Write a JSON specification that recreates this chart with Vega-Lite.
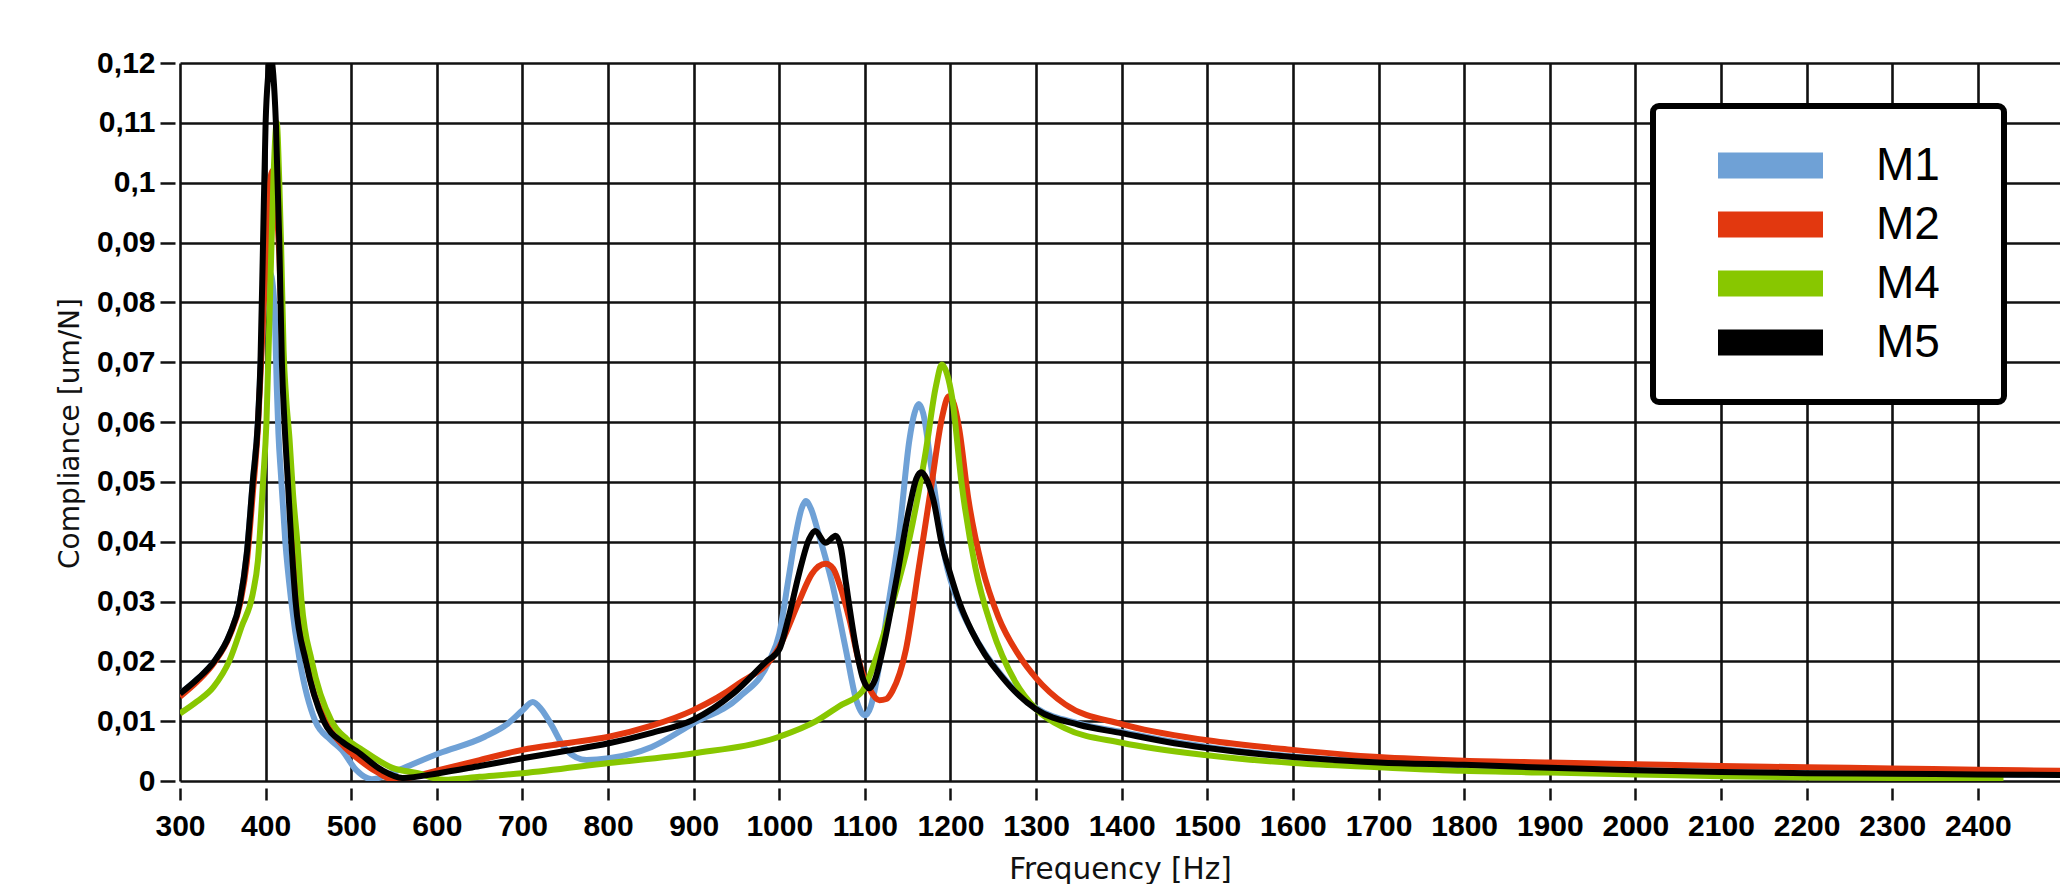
{
  "$schema": "https://vega.github.io/schema/vega-lite/v6.json",
  "width": 1880,
  "height": 718,
  "autosize": {"type": "none"},
  "padding": {"left": 180, "top": 63, "right": 0, "bottom": 103},
  "background": "white",
  "config": {
    "view": {"stroke": null},
    "legend": {"strokeWidth": 6, "strokeColor": "black", "fillColor": "white", "cornerRadius": 6, "padding": 30}
  },
  "data": {
    "values": [
      {"s":"M1","f":300,"c":0.0146},{"s":"M1","f":320,"c":0.0170},{"s":"M1","f":340,"c":0.0200},{"s":"M1","f":358,"c":0.0245},{"s":"M1","f":370,"c":0.0300},{"s":"M1","f":378,"c":0.0380},{"s":"M1","f":385,"c":0.0500},{"s":"M1","f":391,"c":0.0600},{"s":"M1","f":395,"c":0.0720},{"s":"M1","f":400,"c":0.0820},{"s":"M1","f":405,"c":0.0850},{"s":"M1","f":409,"c":0.0820},{"s":"M1","f":411,"c":0.0770},{"s":"M1","f":413,"c":0.0660},{"s":"M1","f":415,"c":0.0580},{"s":"M1","f":418,"c":0.0510},{"s":"M1","f":423,"c":0.0400},{"s":"M1","f":430,"c":0.0300},{"s":"M1","f":440,"c":0.0200},{"s":"M1","f":458,"c":0.0100},{"s":"M1","f":475,"c":0.0070},{"s":"M1","f":489,"c":0.0052},{"s":"M1","f":506,"c":0.0018},{"s":"M1","f":524,"c":0.0003},{"s":"M1","f":545,"c":0.0012},{"s":"M1","f":560,"c":0.0021},{"s":"M1","f":602,"c":0.0046},{"s":"M1","f":656,"c":0.0074},{"s":"M1","f":683,"c":0.0096},{"s":"M1","f":700,"c":0.0118},{"s":"M1","f":712,"c":0.0132},{"s":"M1","f":722,"c":0.0120},{"s":"M1","f":733,"c":0.0096},{"s":"M1","f":751,"c":0.0052},{"s":"M1","f":775,"c":0.0035},{"s":"M1","f":801,"c":0.0038},{"s":"M1","f":851,"c":0.0057},{"s":"M1","f":899,"c":0.0096},{"s":"M1","f":953,"c":0.0140},{"s":"M1","f":988,"c":0.0200},{"s":"M1","f":1000,"c":0.0246},{"s":"M1","f":1011,"c":0.0340},{"s":"M1","f":1019,"c":0.0410},{"s":"M1","f":1026,"c":0.0455},{"s":"M1","f":1031,"c":0.0468},{"s":"M1","f":1037,"c":0.0455},{"s":"M1","f":1046,"c":0.0413},{"s":"M1","f":1062,"c":0.0329},{"s":"M1","f":1078,"c":0.0218},{"s":"M1","f":1090,"c":0.0135},{"s":"M1","f":1100,"c":0.0110},{"s":"M1","f":1107,"c":0.0125},{"s":"M1","f":1113,"c":0.0163},{"s":"M1","f":1128,"c":0.0300},{"s":"M1","f":1140,"c":0.0413},{"s":"M1","f":1152,"c":0.0570},{"s":"M1","f":1158,"c":0.0615},{"s":"M1","f":1163,"c":0.0630},{"s":"M1","f":1168,"c":0.0615},{"s":"M1","f":1178,"c":0.0520},{"s":"M1","f":1194,"c":0.0370},{"s":"M1","f":1210,"c":0.0295},{"s":"M1","f":1225,"c":0.0250},{"s":"M1","f":1240,"c":0.0214},{"s":"M1","f":1255,"c":0.0185},{"s":"M1","f":1275,"c":0.0152},{"s":"M1","f":1300,"c":0.0122},{"s":"M1","f":1350,"c":0.0096},{"s":"M1","f":1400,"c":0.0082},{"s":"M1","f":1450,"c":0.0068},{"s":"M1","f":1500,"c":0.0057},{"s":"M1","f":1600,"c":0.0041},{"s":"M1","f":1700,"c":0.0032},{"s":"M1","f":1800,"c":0.0027},{"s":"M1","f":1900,"c":0.0022},{"s":"M1","f":2000,"c":0.0018},{"s":"M1","f":2100,"c":0.0015},{"s":"M1","f":2200,"c":0.0013},{"s":"M1","f":2300,"c":0.0012},{"s":"M1","f":2400,"c":0.0011},{"s":"M1","f":2496,"c":0.0010},

      {"s":"M2","f":300,"c":0.0141},{"s":"M2","f":320,"c":0.0166},{"s":"M2","f":340,"c":0.0198},{"s":"M2","f":358,"c":0.0243},{"s":"M2","f":370,"c":0.0295},{"s":"M2","f":378,"c":0.0365},{"s":"M2","f":385,"c":0.0480},{"s":"M2","f":391,"c":0.0590},{"s":"M2","f":396,"c":0.0740},{"s":"M2","f":400,"c":0.0860},{"s":"M2","f":404,"c":0.0980},{"s":"M2","f":408,"c":0.1020},{"s":"M2","f":412,"c":0.0970},{"s":"M2","f":416,"c":0.0880},{"s":"M2","f":419,"c":0.0750},{"s":"M2","f":422,"c":0.0640},{"s":"M2","f":426,"c":0.0540},{"s":"M2","f":430,"c":0.0440},{"s":"M2","f":434,"c":0.0350},{"s":"M2","f":438,"c":0.0300},{"s":"M2","f":448,"c":0.0200},{"s":"M2","f":470,"c":0.0100},{"s":"M2","f":490,"c":0.0060},{"s":"M2","f":510,"c":0.0035},{"s":"M2","f":530,"c":0.0015},{"s":"M2","f":550,"c":0.0002},{"s":"M2","f":575,"c":0.0008},{"s":"M2","f":602,"c":0.0018},{"s":"M2","f":650,"c":0.0035},{"s":"M2","f":700,"c":0.0052},{"s":"M2","f":750,"c":0.0063},{"s":"M2","f":801,"c":0.0074},{"s":"M2","f":850,"c":0.0092},{"s":"M2","f":899,"c":0.0118},{"s":"M2","f":950,"c":0.0160},{"s":"M2","f":1000,"c":0.0224},{"s":"M2","f":1023,"c":0.0300},{"s":"M2","f":1038,"c":0.0346},{"s":"M2","f":1054,"c":0.0363},{"s":"M2","f":1063,"c":0.0355},{"s":"M2","f":1070,"c":0.0330},{"s":"M2","f":1082,"c":0.0270},{"s":"M2","f":1093,"c":0.0200},{"s":"M2","f":1105,"c":0.0155},{"s":"M2","f":1117,"c":0.0135},{"s":"M2","f":1125,"c":0.0137},{"s":"M2","f":1132,"c":0.0150},{"s":"M2","f":1148,"c":0.0220},{"s":"M2","f":1163,"c":0.0357},{"s":"M2","f":1178,"c":0.0497},{"s":"M2","f":1190,"c":0.0607},{"s":"M2","f":1198,"c":0.0643},{"s":"M2","f":1204,"c":0.0630},{"s":"M2","f":1210,"c":0.0590},{"s":"M2","f":1221,"c":0.0470},{"s":"M2","f":1237,"c":0.0357},{"s":"M2","f":1256,"c":0.0274},{"s":"M2","f":1280,"c":0.0210},{"s":"M2","f":1300,"c":0.0172},{"s":"M2","f":1334,"c":0.0128},{"s":"M2","f":1400,"c":0.0095},{"s":"M2","f":1500,"c":0.0068},{"s":"M2","f":1600,"c":0.0052},{"s":"M2","f":1700,"c":0.0040},{"s":"M2","f":1800,"c":0.0034},{"s":"M2","f":1900,"c":0.0031},{"s":"M2","f":2000,"c":0.0028},{"s":"M2","f":2100,"c":0.0025},{"s":"M2","f":2200,"c":0.0023},{"s":"M2","f":2300,"c":0.0021},{"s":"M2","f":2400,"c":0.0019},{"s":"M2","f":2496,"c":0.0017},

      {"s":"M4","f":300,"c":0.0113},{"s":"M4","f":320,"c":0.0133},{"s":"M4","f":339,"c":0.0157},{"s":"M4","f":358,"c":0.0202},{"s":"M4","f":372,"c":0.0258},{"s":"M4","f":385,"c":0.0313},{"s":"M4","f":391,"c":0.0368},{"s":"M4","f":397,"c":0.0500},{"s":"M4","f":401,"c":0.0600},{"s":"M4","f":405,"c":0.0800},{"s":"M4","f":409,"c":0.1000},{"s":"M4","f":413,"c":0.1100},{"s":"M4","f":416,"c":0.1000},{"s":"M4","f":418,"c":0.0900},{"s":"M4","f":421,"c":0.0720},{"s":"M4","f":424,"c":0.0640},{"s":"M4","f":428,"c":0.0570},{"s":"M4","f":432,"c":0.0480},{"s":"M4","f":437,"c":0.0400},{"s":"M4","f":442,"c":0.0300},{"s":"M4","f":454,"c":0.0200},{"s":"M4","f":477,"c":0.0100},{"s":"M4","f":495,"c":0.0070},{"s":"M4","f":513,"c":0.0052},{"s":"M4","f":548,"c":0.0022},{"s":"M4","f":578,"c":0.0013},{"s":"M4","f":608,"c":0.0002},{"s":"M4","f":650,"c":0.0007},{"s":"M4","f":700,"c":0.0013},{"s":"M4","f":801,"c":0.0030},{"s":"M4","f":899,"c":0.0046},{"s":"M4","f":1000,"c":0.0074},{"s":"M4","f":1043,"c":0.0100},{"s":"M4","f":1070,"c":0.0125},{"s":"M4","f":1097,"c":0.0150},{"s":"M4","f":1113,"c":0.0205},{"s":"M4","f":1132,"c":0.0295},{"s":"M4","f":1152,"c":0.0405},{"s":"M4","f":1171,"c":0.0550},{"s":"M4","f":1183,"c":0.0660},{"s":"M4","f":1190,"c":0.0696},{"s":"M4","f":1196,"c":0.0680},{"s":"M4","f":1202,"c":0.0640},{"s":"M4","f":1213,"c":0.0497},{"s":"M4","f":1229,"c":0.0357},{"s":"M4","f":1248,"c":0.0257},{"s":"M4","f":1276,"c":0.0165},{"s":"M4","f":1300,"c":0.0120},{"s":"M4","f":1334,"c":0.0088},{"s":"M4","f":1400,"c":0.0064},{"s":"M4","f":1500,"c":0.0043},{"s":"M4","f":1600,"c":0.0030},{"s":"M4","f":1700,"c":0.0023},{"s":"M4","f":1800,"c":0.0017},{"s":"M4","f":1900,"c":0.0014},{"s":"M4","f":2000,"c":0.0011},{"s":"M4","f":2100,"c":0.0008},{"s":"M4","f":2200,"c":0.0006},{"s":"M4","f":2300,"c":0.0005},{"s":"M4","f":2430,"c":0.0004},

      {"s":"M5","f":300,"c":0.0146},{"s":"M5","f":320,"c":0.0170},{"s":"M5","f":340,"c":0.0200},{"s":"M5","f":358,"c":0.0245},{"s":"M5","f":370,"c":0.0300},{"s":"M5","f":378,"c":0.0380},{"s":"M5","f":385,"c":0.0500},{"s":"M5","f":391,"c":0.0600},{"s":"M5","f":394,"c":0.0700},{"s":"M5","f":397,"c":0.0900},{"s":"M5","f":400,"c":0.1100},{"s":"M5","f":403,"c":0.1180},{"s":"M5","f":406,"c":0.1210},{"s":"M5","f":409,"c":0.1180},{"s":"M5","f":412,"c":0.1100},{"s":"M5","f":416,"c":0.0900},{"s":"M5","f":419,"c":0.0700},{"s":"M5","f":422,"c":0.0600},{"s":"M5","f":426,"c":0.0500},{"s":"M5","f":430,"c":0.0400},{"s":"M5","f":435,"c":0.0300},{"s":"M5","f":447,"c":0.0200},{"s":"M5","f":468,"c":0.0100},{"s":"M5","f":490,"c":0.0065},{"s":"M5","f":506,"c":0.0050},{"s":"M5","f":536,"c":0.0018},{"s":"M5","f":560,"c":0.0005},{"s":"M5","f":602,"c":0.0013},{"s":"M5","f":650,"c":0.0025},{"s":"M5","f":700,"c":0.0038},{"s":"M5","f":750,"c":0.0050},{"s":"M5","f":801,"c":0.0063},{"s":"M5","f":850,"c":0.0080},{"s":"M5","f":899,"c":0.0102},{"s":"M5","f":946,"c":0.0146},{"s":"M5","f":985,"c":0.0200},{"s":"M5","f":1000,"c":0.0220},{"s":"M5","f":1011,"c":0.0274},{"s":"M5","f":1023,"c":0.0346},{"s":"M5","f":1035,"c":0.0405},{"s":"M5","f":1042,"c":0.0418},{"s":"M5","f":1054,"c":0.0398},{"s":"M5","f":1066,"c":0.0410},{"s":"M5","f":1072,"c":0.0390},{"s":"M5","f":1078,"c":0.0330},{"s":"M5","f":1090,"c":0.0220},{"s":"M5","f":1098,"c":0.0170},{"s":"M5","f":1105,"c":0.0155},{"s":"M5","f":1112,"c":0.0170},{"s":"M5","f":1121,"c":0.0220},{"s":"M5","f":1136,"c":0.0330},{"s":"M5","f":1152,"c":0.0457},{"s":"M5","f":1160,"c":0.0505},{"s":"M5","f":1166,"c":0.0516},{"s":"M5","f":1172,"c":0.0505},{"s":"M5","f":1180,"c":0.0470},{"s":"M5","f":1190,"c":0.0395},{"s":"M5","f":1200,"c":0.0345},{"s":"M5","f":1210,"c":0.0300},{"s":"M5","f":1225,"c":0.0250},{"s":"M5","f":1240,"c":0.0212},{"s":"M5","f":1255,"c":0.0183},{"s":"M5","f":1275,"c":0.0150},{"s":"M5","f":1300,"c":0.0120},{"s":"M5","f":1350,"c":0.0094},{"s":"M5","f":1400,"c":0.0080},{"s":"M5","f":1450,"c":0.0066},{"s":"M5","f":1500,"c":0.0055},{"s":"M5","f":1600,"c":0.0040},{"s":"M5","f":1700,"c":0.0031},{"s":"M5","f":1800,"c":0.0027},{"s":"M5","f":1900,"c":0.0022},{"s":"M5","f":2000,"c":0.0018},{"s":"M5","f":2100,"c":0.0015},{"s":"M5","f":2200,"c":0.0013},{"s":"M5","f":2300,"c":0.0012},{"s":"M5","f":2400,"c":0.0011},{"s":"M5","f":2496,"c":0.0010}
    ]
  },
  "mark": {"type": "line", "clip": true, "strokeWidth": 6, "interpolate": "monotone", "strokeJoin": "round"},
  "encoding": {
    "x": {
      "field": "f", "type": "quantitative",
      "scale": {"domain": [300, 2496], "nice": false, "zero": false},
      "axis": {
        "values": [300,400,500,600,700,800,900,1000,1100,1200,1300,1400,1500,1600,1700,1800,1900,2000,2100,2200,2300,2400],
        "format": "d",
        "title": "Frequency [Hz]",
        "grid": true, "gridColor": "#111", "gridWidth": 2.6,
        "domain": false,
        "ticks": true, "tickColor": "#111", "tickWidth": 2.5, "tickSize": 12, "offset": 7,
        "labelPadding": 11, "labelFont": "Liberation Sans", "labelFontSize": 30, "labelFontWeight": "bold", "labelColor": "black",
        "labelFlush": false, "labelOverlap": false, "labelBound": false,
        "titleFont": "DejaVu Sans", "titleFontSize": 29.5, "titleFontWeight": "normal", "titleColor": "#111", "titlePadding": 14
      }
    },
    "y": {
      "field": "c", "type": "quantitative",
      "scale": {"domain": [0, 0.12], "nice": false},
      "axis": {
        "values": [0,0.01,0.02,0.03,0.04,0.05,0.06,0.07,0.08,0.09,0.1,0.11,0.12],
        "labelExpr": "replace(format(datum.value, '.2~f'), '.', ',')",
        "title": "Compliance [um/N]",
        "titleY": 370,
        "grid": true, "gridColor": "#111", "gridWidth": 2.6,
        "domain": false,
        "ticks": true, "tickColor": "#111", "tickWidth": 2.5, "tickSize": 15, "offset": 5,
        "labelPadding": 5, "labelFont": "Liberation Sans", "labelFontSize": 30, "labelFontWeight": "bold", "labelColor": "black",
        "labelFlush": false, "labelOverlap": false, "labelBound": false,
        "titleFont": "DejaVu Sans", "titleFontSize": 28, "titleFontWeight": "normal", "titleColor": "#111", "titlePadding": 12
      }
    },
    "color": {
      "field": "s", "type": "nominal",
      "scale": {"domain": ["M1","M2","M4","M5"], "range": ["#6fa1d6","#e2380f","#88c700","#000000"]},
      "legend": {
        "title": " ", "titleOrient": "right", "titleFontSize": 1, "titlePadding": 34,
        "orient": "none", "legendX": 1473, "legendY": 43,
        "symbolType": "stroke", "symbolSize": 11025, "symbolStrokeWidth": 26, "symbolOffset": 22,
        "labelFont": "Liberation Sans", "labelFontSize": 46, "labelColor": "black", "labelOffset": 40,
        "clipHeight": 59, "rowPadding": 0
      }
    }
  }
}
